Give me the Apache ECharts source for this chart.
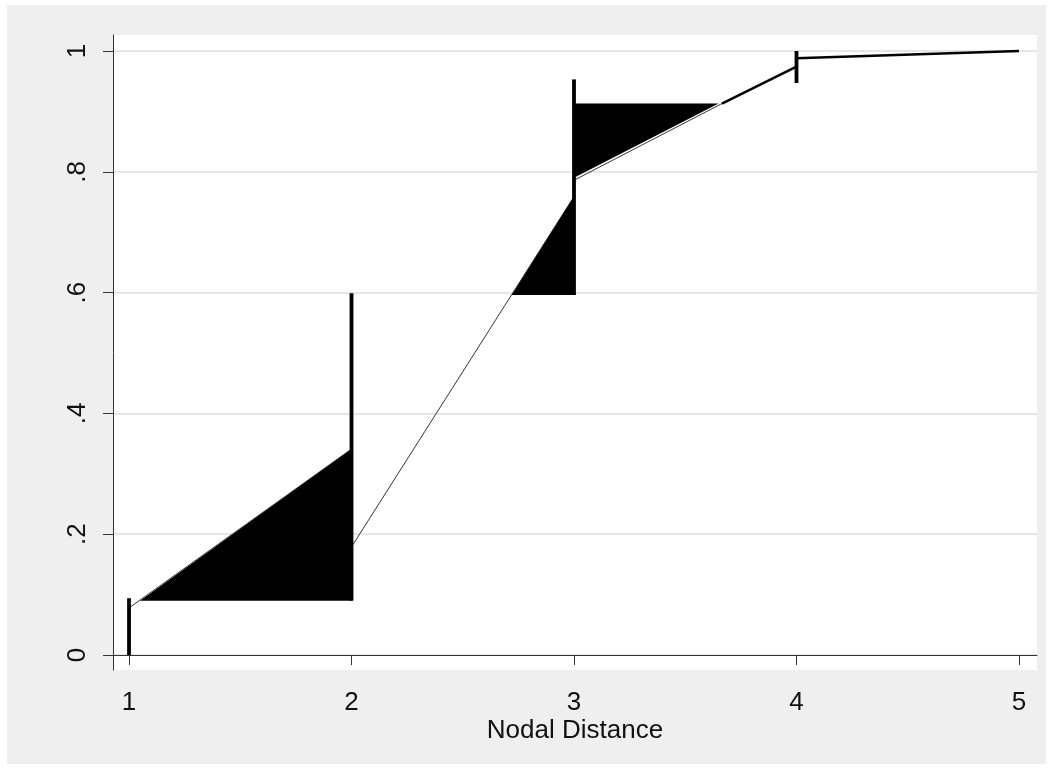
<!DOCTYPE html>
<html>
<head>
<meta charset="utf-8">
<script src="https://cdn.jsdelivr.net/npm/echarts@6/dist/echarts.min.js"></script>
<style>
  html, body { margin: 0; padding: 0; background: #ffffff; }
  #chart { position: absolute; left: 7px; top: 5px; width: 1039px; height: 759px; }
</style>
</head>
<body>
<div id="chart"></div>
<script>
// ---- data ----
const xTicks = [1, 2, 3, 4, 5];
const xTickLabels = ['1', '2', '3', '4', '5'];
const yTicks = [0, 0.2, 0.4, 0.6, 0.8, 1];
const yTickLabels = ['0', '.2', '.4', '.6', '.8', '1'];
const xTitle = 'Nodal Distance';

// thin connecting segments
const thinSeg1 = [[1, 0.078], [2, 0.341]];
const thinSeg2 = [[2, 0.179], [3, 0.759]];
const thinSeg3 = [[3, 0.786], [3.665, 0.913]];
// thick segments
const thickSeg1 = [[3.665, 0.913], [4, 0.974]];
const thickSeg2 = [[4, 0.988], [5, 1.0]];

// filled shaded regions (vertices in data units)
const area1 = [[1.05, 0.090], [2, 0.341], [2, 0.090]];
const area2 = [[2.72, 0.596], [3, 0.759], [3, 0.596]];
const area3 = [[3, 0.913], [3.65, 0.913], [3, 0.790]];
const areas = [area1, area2, area3];

// vertical spikes: [x, low, high]
const spikes = [[1, 0.0, 0.094], [2, 0.090, 0.599], [3, 0.596, 0.953], [4, 0.947, 1.0]];

// ---- chart ----
const chart = echarts.init(document.getElementById('chart'), null, { renderer: 'canvas' });
const FONT = 'Liberation Sans, Arial, Helvetica, sans-serif';

function yLab(v) {
  const i = yTicks.findIndex(t => Math.abs(t - v) < 1e-9);
  return i >= 0 ? yTickLabels[i] : '';
}
function xLab(v) {
  const i = xTicks.findIndex(t => Math.abs(t - v) < 1e-9);
  return i >= 0 ? xTickLabels[i] : '';
}

function lineSeries(data, width) {
  return {
    type: 'line', data: data, showSymbol: false, symbol: 'none',
    lineStyle: { color: '#000', width: width }, z: 3, silent: true, animation: false
  };
}

chart.setOption({
  backgroundColor: '#efefef',
  animation: false,
  grid: {
    left: 106, top: 30, width: 924, height: 635,
    show: true, backgroundColor: '#ffffff', borderWidth: 0
  },
  xAxis: {
    type: 'value', min: 0.928, max: 5.081,
    name: xTitle, nameLocation: 'middle', nameGap: 48, nameMoveOverlap: false,
    nameTextStyle: { fontFamily: FONT, fontSize: 26, color: '#111' },
    axisLine: { show: true, lineStyle: { color: '#333', width: 1 } },
    axisTick: { show: true, length: 10, lineStyle: { color: '#333', width: 1 }, customValues: xTicks },
    axisLabel: { fontFamily: FONT, fontSize: 26, color: '#111', margin: 20, customValues: xTicks, formatter: xLab },
    splitLine: { show: false }
  },
  yAxis: {
    type: 'value', min: -0.0248, max: 1.0265,
    axisLine: { show: true, lineStyle: { color: '#333', width: 1 } },
    axisTick: { show: true, length: 10, lineStyle: { color: '#333', width: 1 }, customValues: yTicks },
    axisLabel: { fontFamily: FONT, fontSize: 26, color: '#111', margin: 22, rotate: 90, customValues: yTicks, formatter: yLab },
    splitLine: { show: true, lineStyle: { color: '#e6e6e6', width: 2 } }
  },
  series: [
    {
      type: 'custom', z: 2, silent: true, animation: false,
      data: areas.map(p => p[0]),
      encode: { x: 0, y: 1 },
      renderItem: function (params, api) {
        const poly = areas[params.dataIndex];
        const pts = poly.map(v => api.coord(v));
        return { type: 'polygon', shape: { points: pts }, style: { fill: '#000', stroke: null } };
      }
    },
    lineSeries(thinSeg1, 0.8),
    lineSeries(thinSeg2, 0.8),
    lineSeries(thinSeg3, 0.8),
    lineSeries(thickSeg1, 2.5),
    lineSeries(thickSeg2, 2.5),
    {
      type: 'custom', z: 4, silent: true, animation: false,
      data: spikes,
      encode: { x: 0, y: [1, 2] },
      renderItem: function (params, api) {
        const a = api.coord([api.value(0), api.value(1)]);
        const b = api.coord([api.value(0), api.value(2)]);
        return { type: 'line', shape: { x1: a[0], y1: a[1], x2: b[0], y2: b[1] }, style: { stroke: '#000', lineWidth: 3.8 } };
      }
    }
  ]
});
</script>
</body>
</html>
